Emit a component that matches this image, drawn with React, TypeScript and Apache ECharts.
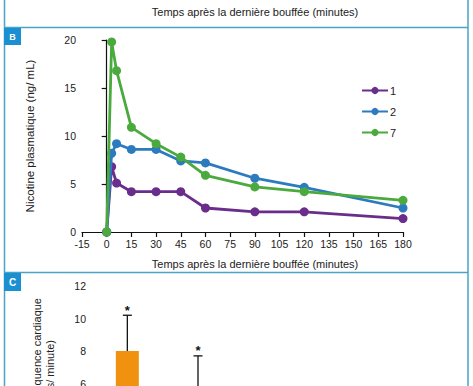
import React, { useEffect, useRef } from "react";
import * as echarts from "echarts";

// Panel B: plasma nicotine
const times = [0, 3, 6, 15, 30, 45, 60, 90, 120, 180];
const product1 = [0, 6.8, 5.1, 4.2, 4.2, 4.2, 2.5, 2.1, 2.1, 1.4];
const product2 = [0, 8.2, 9.2, 8.6, 8.6, 7.4, 7.2, 5.6, 4.65, 2.5];
const product7 = [0, 19.8, 16.8, 10.9, 9.2, 7.8, 5.9, 4.7, 4.2, 3.3];
const seriesNames = ["1", "2", "7"];
const seriesColors = ["#6a2d8c", "#2d7bbf", "#4aaa3e"];

// Panel C: heart rate
const hrCategories = ["1", "2", "7"];
const hrMeans = [8.0, 5.0, 3.0];
const hrErrors = [2.2, 2.7, 1.5];
const hrStars = ["*", "*", ""];
const hrColors = ["#f0920f", "#2d7bbf", "#4aaa3e"];

const FONT = "'Liberation Sans Narrow', 'Liberation Sans', sans-serif";
const NUMFONT = "'Liberation Sans', sans-serif";
const BORDER = "#4aa5c4";
const BADGE = "#1a8fd2";

export default function App() {
  const ref = useRef<HTMLDivElement>(null);
  useEffect(() => {
    if (!ref.current) return;
    const chart = echarts.init(ref.current, null, { renderer: "svg" });
    const lineData = [product1, product2, product7].map((vals) =>
      times.map((t, i) => [t, vals[i]])
    );
    const axisCommon = {
      axisLine: { lineStyle: { color: "#111", width: 1.2 } },
      axisTick: { lineStyle: { color: "#111", width: 1.2 }, length: 5 },
      splitLine: { show: false },
      axisLabel: { color: "#222", fontSize: 10.5, fontFamily: NUMFONT },
    };
    chart.setOption({
      animation: false,
      backgroundColor: "#fff",
      textStyle: { fontFamily: FONT },
      grid: [
        { left: 82, top: 40, width: 321, height: 192 },
        { left: 92, top: 286, width: 212, height: 200 },
      ],
      xAxis: [
        {
          gridIndex: 0,
          type: "value",
          min: -15,
          max: 180,
          interval: 15,
          ...axisCommon,
          axisLabel: { ...axisCommon.axisLabel, margin: 6 },
        },
        {
          gridIndex: 1,
          type: "category",
          data: hrCategories,
          ...axisCommon,
          axisTick: { show: false },
        },
      ],
      yAxis: [
        {
          gridIndex: 0,
          type: "value",
          min: 0,
          max: 20,
          interval: 5,
          ...axisCommon,
          axisLabel: { ...axisCommon.axisLabel, margin: 6 },
          name: "Nicotine plasmatique (ng/ mL)",
          nameLocation: "middle",
          nameGap: 46,
          nameTextStyle: { color: "#222", fontSize: 11.5, fontFamily: FONT },
        },
        {
          gridIndex: 1,
          type: "value",
          min: 0,
          max: 12,
          interval: 2,
          ...axisCommon,
          axisTick: { ...axisCommon.axisTick, length: 6 },
          axisLabel: { ...axisCommon.axisLabel, margin: 6 },
        },
      ],
      legend: {
        orient: "vertical",
        left: 356,
        top: 80,
        itemWidth: 26,
        itemHeight: 9,
        itemGap: 10,
        selectedMode: false,
        data: seriesNames,
        textStyle: { color: "#222", fontSize: 11, fontFamily: NUMFONT, padding: [0, 0, 0, -3] },
      },
      series: [
        ...lineData.map((d, i) => ({
          name: seriesNames[i],
          type: "line",
          xAxisIndex: 0,
          yAxisIndex: 0,
          data: d,
          color: seriesColors[i],
          symbol: "circle",
          symbolSize: 9,
          lineStyle: { width: 2.8, color: seriesColors[i] },
          itemStyle: { color: seriesColors[i] },
          z: 2 + i,
        })),
        {
          type: "bar",
          xAxisIndex: 1,
          yAxisIndex: 1,
          barWidth: 23,
          data: hrMeans.map((v, i) => ({ value: v, itemStyle: { color: hrColors[i] } })),
          z: 2,
        },
        {
          type: "custom",
          xAxisIndex: 1,
          yAxisIndex: 1,
          z: 5,
          data: hrMeans.map((v, i) => [i, v, hrErrors[i]]),
          encode: { x: 0, y: 1 },
          renderItem: (params: any, api: any) => {
            const idx = api.value(0);
            const mean = api.value(1);
            const err = api.value(2);
            const base = api.coord([idx, mean]);
            const top = api.coord([idx, mean + err]);
            const star = hrStars[params.dataIndex];
            const children: any[] = [
              {
                type: "line",
                shape: { x1: base[0], y1: base[1], x2: top[0], y2: top[1] },
                style: { stroke: "#111", lineWidth: 1.3 },
              },
              {
                type: "line",
                shape: { x1: top[0] - 4.5, y1: top[1], x2: top[0] + 4.5, y2: top[1] },
                style: { stroke: "#111", lineWidth: 1.3 },
              },
            ];
            if (star) {
              children.push({
                type: "text",
                x: top[0],
                y: top[1] - 5,
                style: {
                  text: star,
                  fill: "#111",
                  font: "bold 13px " + NUMFONT,
                  align: "center",
                  verticalAlign: "middle",
                },
              });
            }
            return { type: "group", children };
          },
        },
      ],
      graphic: [
        { type: "line", shape: { x1: 4.5, y1: 0, x2: 4.5, y2: 500 }, style: { stroke: BORDER, lineWidth: 1.5 } },
        { type: "line", shape: { x1: 468, y1: 0, x2: 468, y2: 500 }, style: { stroke: BORDER, lineWidth: 1.5 } },
        { type: "line", shape: { x1: 4, y1: 27.5, x2: 468, y2: 27.5 }, style: { stroke: BORDER, lineWidth: 1.5 } },
        { type: "line", shape: { x1: 4, y1: 272.5, x2: 468, y2: 272.5 }, style: { stroke: BORDER, lineWidth: 1.5 } },
        { type: "rect", shape: { x: 4, y: 28, width: 17, height: 17 }, style: { fill: BADGE } },
        {
          type: "text",
          x: 12.5,
          y: 36.5,
          style: { text: "B", fill: "#fff", font: "bold 9px " + NUMFONT, align: "center", verticalAlign: "middle" },
        },
        { type: "rect", shape: { x: 4, y: 273, width: 17, height: 18 }, style: { fill: BADGE } },
        {
          type: "text",
          x: 12.5,
          y: 282,
          style: { text: "C", fill: "#fff", font: "bold 10px " + NUMFONT, align: "center", verticalAlign: "middle" },
        },
        {
          type: "text",
          x: 255,
          y: 12,
          style: {
            text: "Temps après la dernière bouffée (minutes)",
            fill: "#222",
            font: "11px " + FONT,
            align: "center",
            verticalAlign: "middle",
          },
        },
        {
          type: "text",
          x: 255,
          y: 264,
          style: {
            text: "Temps après la dernière bouffée (minutes)",
            fill: "#222",
            font: "11px " + FONT,
            align: "center",
            verticalAlign: "middle",
          },
        },
        {
          type: "text",
          x: 37,
          y: 298,
          rotation: Math.PI / 2,
          style: {
            text: "Fréquence cardiaque",
            fill: "#222",
            font: "11px " + FONT,
            align: "right",
            verticalAlign: "middle",
          },
        },
        {
          type: "text",
          x: 50,
          y: 340,
          rotation: Math.PI / 2,
          style: {
            text: "(battements/ minute)",
            fill: "#222",
            font: "11px " + FONT,
            align: "right",
            verticalAlign: "middle",
          },
        },
      ],
    });
    return () => chart.dispose();
  }, []);
  return (
    <div style={{ position: "fixed", left: 0, top: 0, width: 473, height: 386, overflow: "hidden", background: "#fff" }}>
      <div ref={ref} style={{ width: 473, height: 500 }} />
    </div>
  );
}
